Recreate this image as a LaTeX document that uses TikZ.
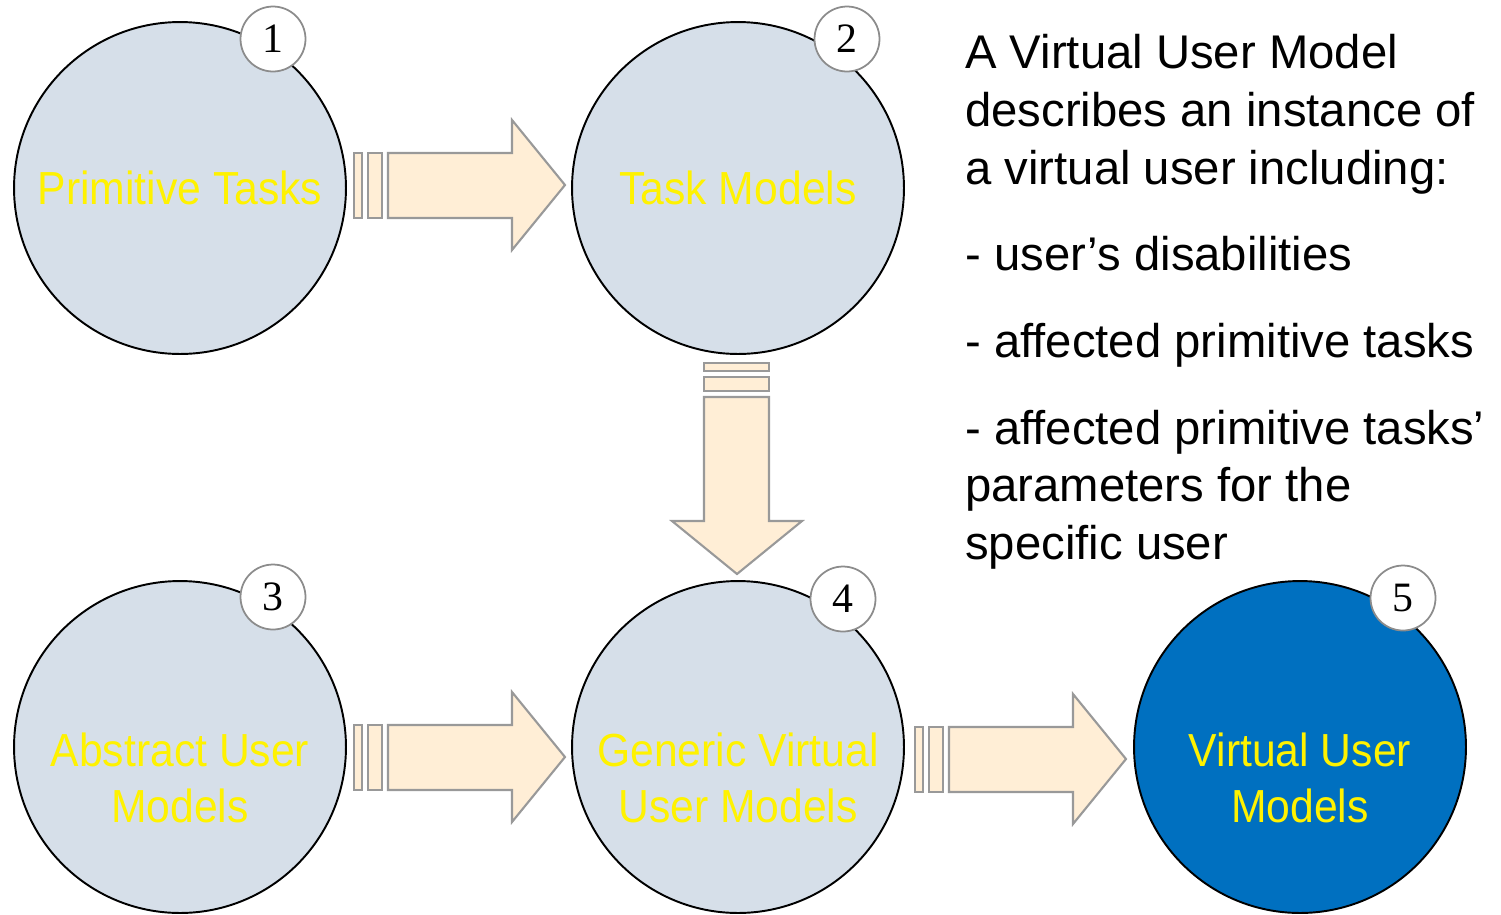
\documentclass[tikz,border=0pt]{standalone}
\usepackage{fontspec}
\setmainfont{Liberation Sans}
\newfontfamily\labelfont[FakeStretch=0.92]{Liberation Sans}
\newfontfamily\numfont{Liberation Serif}
\usepackage{tikz}
\usetikzlibrary{positioning}
\definecolor{modelfill}{RGB}{214,223,233}
\definecolor{vumblue}{RGB}{0,112,192}
\definecolor{arrowfill}{RGB}{255,238,214}
\definecolor{arrowline}{RGB}{153,153,153}
\definecolor{badgeline}{RGB}{140,140,140}
\tikzset{
	model/.style={circle, draw=black, line width=1.1pt, fill=modelfill, minimum size=6.64cm, inner sep=0pt, align=center, text=yellow, font=\labelfont\fontsize{26.4}{32.3}\selectfont},
	vum/.style={model, fill=vumblue},
	modeltext/.style={align=center, inner sep=0pt, text=yellow, font=\labelfont\fontsize{26.4}{32.3}\selectfont},
	badge/.style={circle, draw=badgeline, line width=1pt, fill=white, minimum size=1.3cm, inner sep=0pt, font=\numfont\fontsize{23.8}{24}\selectfont},
	note/.style={align=left, inner sep=0pt, font=\fontsize{26.9}{32.9}\selectfont},
	arrowpart/.style={draw=arrowline, fill=arrowfill, line width=1.2pt},
	blockarrow/.pic={
		\draw[arrowpart] (0,-32) rectangle (8,33);
		\draw[arrowpart] (14,-32) rectangle (28,33);
		\draw[arrowpart] (34,-32) -- (158,-32) -- (158,-65) -- (211,0) -- (158,65) -- (158,33) -- (34,33) -- cycle;
	}
}

\begin{document}
\begin{tikzpicture}[x=0.02cm, y=-0.02cm]
	\useasboundingbox (0,0) rectangle (1501,914);
	%Nodes
	\node[model] (c1) at (180,188) {Primitive Tasks};
	\node[model] (c2) at (738,188) {Task Models};
	\node[model] (c3) at (180,747) {};
	\node[model] (c4) at (738,747) {};
	\node[vum]   (c5) at (1300,747) {};
	\node[modeltext] (t3) at (180,778) {Abstract User\\Models};
	\node[modeltext] (t4) at (738,778) {Generic Virtual\\User Models};
	\node[modeltext] (t5) at (1300,778) {Virtual User\\Models};
	\node[badge] (n1) at (273,39) {1};
	\node[badge] (n2) at (847,39) {2};
	\node[badge] (n3) at (273,597) {3};
	\node[badge] (n4) at (843,599) {4};
	\node[badge] (n5) at (1403,598) {5};
	\node[note, anchor=north west] (txt) at (965,34) {A Virtual User Model\\describes an instance of\\a virtual user including:\\[16.4pt]- user’s disabilities\\[16.4pt]- affected primitive tasks\\[16.4pt]- affected primitive tasks’\\parameters for the\\specific user};
	\coordinate (a12) at (354,185);
	\coordinate (a34) at (354,757);
	\coordinate (a45) at (915,759);
	\coordinate (a24) at (737,363);

	%Arrows
	\pic at (a12) {blockarrow};
	\pic at (a34) {blockarrow};
	\pic at (a45) {blockarrow};
	\pic[rotate=-90] at (a24) {blockarrow};
\end{tikzpicture}
\end{document}
